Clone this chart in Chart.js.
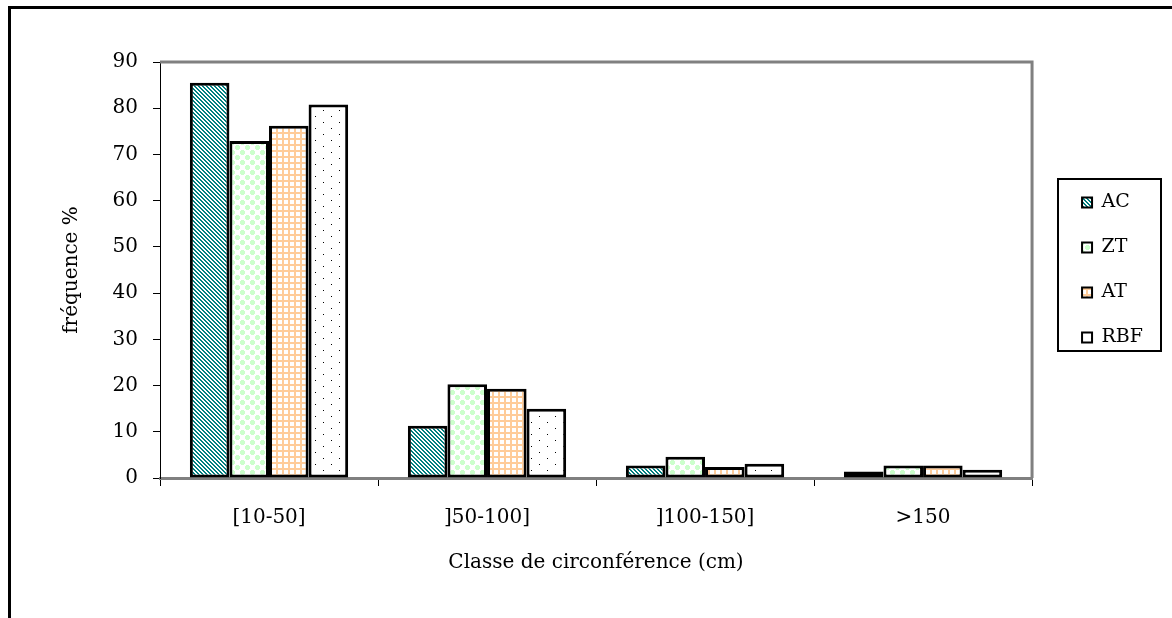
<!DOCTYPE html>
<html>
<head>
<meta charset="utf-8">
<script src="https://cdn.jsdelivr.net/npm/chart.js@4.4.1/dist/chart.umd.min.js"></script>
<style>
  html, body { margin: 0; padding: 0; background: #fff; }
</style>
</head>
<body>
<canvas id="chart" width="1172" height="618"></canvas>
<script>
// data
const classes = ["[10-50]", "]50-100]", "]100-150]", ">150"];
const acValues  = [85.5, 11.3, 2.7, 1.4];
const ztValues  = [72.9, 20.3, 4.6, 2.7];
const atValues  = [76.2, 19.3, 2.4, 2.7];
const rbfValues = [80.8, 15.0, 3.1, 1.8];
const yTicks = [0, 10, 20, 30, 40, 50, 60, 70, 80, 90];

const serif = "'DejaVu Serif', 'Liberation Serif', serif";

// --- fill patterns, like the old Excel hatches ---
function makePattern(w, h, draw) {
  const c = document.createElement("canvas");
  c.width = w; c.height = h;
  const g = c.getContext("2d");
  g.fillStyle = "#fff";
  g.fillRect(0, 0, w, h);
  draw(g);
  return c.getContext("2d").createPattern(c, "repeat");
}

const acPattern = makePattern(4, 4, g => {
  g.fillStyle = "#008080";
  for (let y = 0; y < 4; y++) {
    for (let x = 0; x < 4; x++) {
      if (((x - y) % 4 + 4) % 4 < 2) g.fillRect(x, y, 1, 1);
    }
  }
});

// staggered green blobs
const ztPattern = makePattern(10, 10, g => {
  g.fillStyle = "#ccffcc";
  const blob = (cx, cy) => {
    g.fillRect(cx - 2, cy - 1, 5, 3);
    g.fillRect(cx - 1, cy - 2, 3, 5);
  };
  blob(2, 2);
  blob(7, 7);
  blob(12, 2);
  blob(2, 12);
  blob(12, 12);
  blob(-3, 7);
  blob(7, -3);
});

const atPattern = makePattern(6, 6, g => {
  g.fillStyle = "#ffcc99";
  g.fillRect(0, 0, 6, 2);
  g.fillRect(0, 0, 2, 6);
});

const rbfPattern = makePattern(16, 12, g => {
  g.fillStyle = "#000";
  g.fillRect(3, 2, 1, 1);
  g.fillRect(11, 8, 1, 1);
});

// --- outer frame, plot border, legend box ---
const framePlugin = {
  id: "frame",
  beforeDraw(chart) {
    const c = chart.ctx;
    c.save();
    c.fillStyle = "#fff";
    c.fillRect(0, 0, chart.width, chart.height);
    c.fillStyle = "#000";
    c.fillRect(8, 6, chart.width - 8, 3);
    c.fillRect(8, 6, 3, chart.height - 6);
    c.restore();
  },
  beforeDatasetsDraw(chart) {
    const a = chart.chartArea;
    const c = chart.ctx;
    c.save();
    c.strokeStyle = "#808080";
    c.lineWidth = 3;
    c.beginPath();
    c.moveTo(a.left, a.top);
    c.lineTo(a.right, a.top);
    c.lineTo(a.right, a.bottom);
    c.stroke();
    c.restore();
  },
  afterDraw(chart) {
    const c = chart.ctx;
    c.save();
    c.strokeStyle = "#000";
    c.lineWidth = 2;
    c.strokeRect(1058, 179, 103, 172);
    c.restore();
  }
};

function ds(label, data, fill) {
  return {
    label,
    data,
    backgroundColor: fill,
    borderColor: "#000",
    borderWidth: 3,
    borderSkipped: false,
    categoryPercentage: 0.726,
    barPercentage: 1.0
  };
}

new Chart(document.getElementById("chart").getContext("2d"), {
  type: "bar",
  data: {
    labels: classes,
    datasets: [
      ds("AC", acValues, acPattern),
      ds("ZT", ztValues, ztPattern),
      ds("AT", atValues, atPattern),
      ds("RBF", rbfValues, rbfPattern)
    ]
  },
  plugins: [framePlugin],
  options: {
    responsive: false,
    animation: false,
    layout: { padding: { top: 62, left: 10, right: 19, bottom: 0 } },
    plugins: {
      tooltip: { enabled: false },
      legend: {
        position: "right",
        align: "center",
        fullSize: false,
        labels: {
          color: "#000",
          font: { family: serif, size: 19 },
          boxWidth: 10,
          boxHeight: 10,
          padding: 26,
          generateLabels(chart) {
            return chart.data.datasets.map((d, i) => ({
              text: d.label,
              fillStyle: d.backgroundColor,
              strokeStyle: "#000",
              lineWidth: 2,
              datasetIndex: i,
              hidden: false
            }));
          }
        }
      }
    },
    scales: {
      x: {
        afterFit(axis) { axis.height = 140; },
        grid: {
          offset: true,
          drawOnChartArea: false,
          color: "#000",
          lineWidth: 1,
          tickLength: 8
        },
        border: { color: "#808080", width: 3 },
        ticks: {
          color: "#000",
          font: { family: serif, size: 20 },
          padding: 20,
          maxRotation: 0
        },
        title: {
          display: true,
          text: "Classe de circonférence (cm)",
          color: "#000",
          font: { family: serif, size: 20 },
          padding: { bottom: 43 }
        }
      },
      y: {
        min: 0,
        max: 90,
        afterFit(axis) { axis.width = 150; },
        afterBuildTicks(axis) { axis.ticks = yTicks.map(v => ({ value: v })); },
        grid: {
          drawOnChartArea: false,
          color: "#000",
          lineWidth: 1,
          tickLength: 7
        },
        border: { color: "#000", width: 1 },
        ticks: {
          color: "#000",
          font: { family: serif, size: 20 },
          padding: 15
        },
        title: {
          display: true,
          text: "fréquence %",
          color: "#000",
          font: { family: serif, size: 20 },
          padding: { top: 50 }
        }
      },
      // empty spacer between plot and legend
      gap: {
        type: "linear",
        position: "right",
        afterFit(axis) { axis.width = 24; },
        grid: { display: false },
        ticks: { display: false },
        border: { display: false }
      }
    }
  }
});
</script>
</body>
</html>
